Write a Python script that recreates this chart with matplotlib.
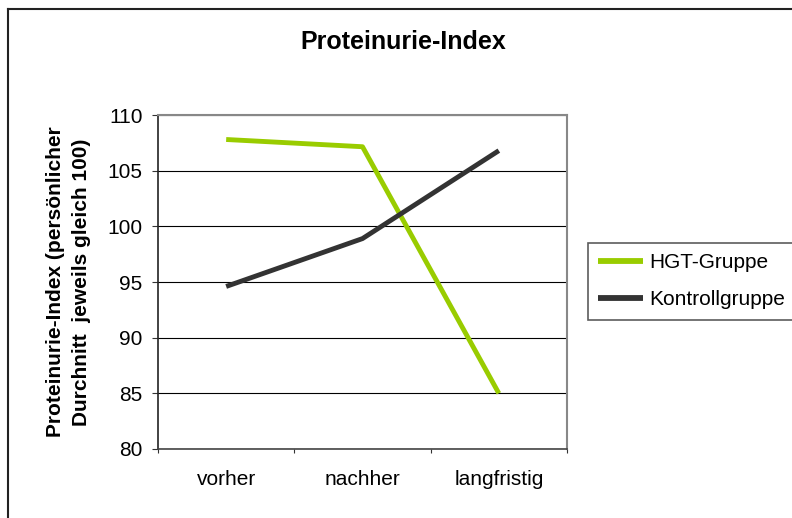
import matplotlib
matplotlib.use("Agg")
import matplotlib.pyplot as plt
from matplotlib.lines import Line2D

plt.rcParams['font.family'] = ['Liberation Sans', 'DejaVu Sans']

categories = ["vorher", "nachher", "langfristig"]
hgt = [107.8, 107.15, 85.0]
kontroll = [94.6, 98.9, 106.8]
series_names = ["HGT-Gruppe", "Kontrollgruppe"]
yticks = [80, 85, 90, 95, 100, 105, 110]

W, H = 792, 518
fig = plt.figure(figsize=(W / 100, H / 100), dpi=100)
fig.patch.set_facecolor('white')

l, r, t, b = 158, 567, 115, 449
ax = fig.add_axes([l / W, 1 - b / H, (r - l) / W, (b - t) / H])

x = list(range(len(categories)))
ax.plot(x, hgt, color='#99CC00', lw=3.5, solid_capstyle='butt', label=series_names[0], zorder=3)
ax.plot(x, kontroll, color='#333333', lw=3.5, solid_capstyle='butt', label=series_names[1], zorder=3)

ax.set_xlim(-0.5, len(categories) - 0.5)
ax.set_ylim(80, 110)
ax.set_yticks(yticks)
ax.set_yticklabels([str(v) for v in yticks], fontsize=15)
ax.yaxis.grid(True, color='black', lw=0.8)
ax.set_axisbelow(True)

ax.set_xticks([i - 0.5 for i in range(len(categories) + 1)])
ax.set_xticklabels([])
ax.set_xticks(x, minor=True)
ax.set_xticklabels(categories, minor=True, fontsize=15)
ax.tick_params(axis='x', which='major', direction='out', length=3, width=0.8, color='#333333')
ax.tick_params(axis='x', which='minor', length=0, pad=15)
ax.tick_params(axis='y', direction='out', length=4, width=0.8, pad=7, color='#333333')

for s in ['top', 'right']:
    ax.spines[s].set_color('#888888')
    ax.spines[s].set_linewidth(1.5)
ax.spines['left'].set_color('#222222')
ax.spines['bottom'].set_color('#444444')
ax.spines['left'].set_linewidth(1.2)
ax.spines['bottom'].set_linewidth(1.2)

ax.set_ylabel("Proteinurie-Index (persönlicher\nDurchnitt  jeweils gleich 100)",
              fontsize=15, fontweight='bold', linespacing=1.45, labelpad=12)

fig.text(403 / W, 1 - 42 / H, "Proteinurie-Index", fontsize=18, fontweight='bold',
         ha='center', va='center')

leg = fig.legend(loc='upper left', bbox_to_anchor=(588 / W, 1 - 243 / H), borderaxespad=0,
                 fontsize=15, frameon=True, fancybox=False, handlelength=2.15,
                 handletextpad=0.3, labelspacing=0.85, borderpad=0.5)
leg.get_frame().set_edgecolor('#333333')
leg.get_frame().set_linewidth(1.2)
for h in leg.get_lines():
    h.set_linewidth(4.2)

fig.add_artist(Line2D([8 / W, 8 / W], [0, 1 - 9 / H], transform=fig.transFigure, color='#222222', lw=1.5))
fig.add_artist(Line2D([8 / W, 1], [1 - 9 / H, 1 - 9 / H], transform=fig.transFigure, color='#222222', lw=1.5))

fig.savefig("out.png", dpi=100)
